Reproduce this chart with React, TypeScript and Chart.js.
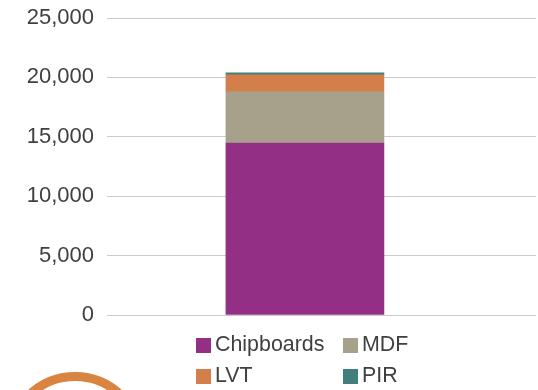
import React, { useEffect, useRef } from "react";
import { Chart, registerables } from "chart.js";

Chart.register(...registerables);

const categories = [45.75];
const chipboards = [14480];
const mdf = [4300];
const lvt = [1430];
const pir = [170];
const seriesNames = ["Chipboards", "MDF", "LVT", "PIR"];
const seriesColors = ["#933085", "#a7a18c", "#d47f4b", "#417f7f"];
const FONT = '"Liberation Sans", Arial, sans-serif';

export default function App() {
  const ref = useRef<HTMLCanvasElement>(null);
  useEffect(() => {
    const values = [chipboards, mdf, lvt, pir];
    const chart = new Chart(ref.current!, {
      type: "bar",
      data: {
        labels: categories,
        datasets: seriesNames.map((label, i) => ({
          label,
          data: values[i],
          backgroundColor: seriesColors[i],
          barThickness: 158,
        })),
      },
      options: {
        animation: false,
        responsive: false,
        layout: { padding: { top: 18, right: 2, bottom: 67, left: 0 } },
        plugins: { legend: { display: false }, tooltip: { enabled: false } },
        scales: {
          x: {
            type: "linear",
            min: 0,
            max: 100,
            stacked: true,
            grid: { display: false },
            border: { display: false },
            ticks: { display: false },
          },
          y: {
            stacked: true,
            min: 0,
            max: 25000,
            afterFit: (s: any) => {
              s.width = 107;
              s.paddingTop = 0;
              s.paddingBottom = 0;
            },
            grid: { color: "#cbcbcb", lineWidth: 1, drawTicks: false },
            border: { display: false },
            ticks: {
              stepSize: 5000,
              padding: 13,
              color: "#404040",
              font: { family: FONT, size: 22 },
              callback: (v: any) => Number(v).toLocaleString("en-US"),
            },
          },
        },
      },
    });
    return () => chart.destroy();
  }, []);

  const legendPos = [[196, 333], [343, 333], [196, 364], [343, 364]];
  return (
    <div style={{ position: "fixed", left: 0, top: 0, width: 538, height: 390, overflow: "hidden", background: "#fff" }}>
      <canvas ref={ref} width={538} height={390} style={{ position: "absolute", left: 0, top: 0 }} />
      {seriesNames.map((n, i) => (
        <div key={n} style={{ position: "absolute", left: legendPos[i][0], top: legendPos[i][1], display: "flex", alignItems: "center", height: 24, font: `21.4px ${FONT}`, color: "#404040", whiteSpace: "nowrap" }}>
          <span style={{ width: 15, height: 15, background: seriesColors[i], marginRight: 4, display: "inline-block" }} />
          <span style={{ position: "relative", top: -1 }}>{n}</span>
        </div>
      ))}
      <div style={{ position: "absolute", left: 5, top: 372, width: 140, height: 140, boxSizing: "border-box", borderRadius: "50%", border: "9px solid #d98440" }} />
    </div>
  );
}
